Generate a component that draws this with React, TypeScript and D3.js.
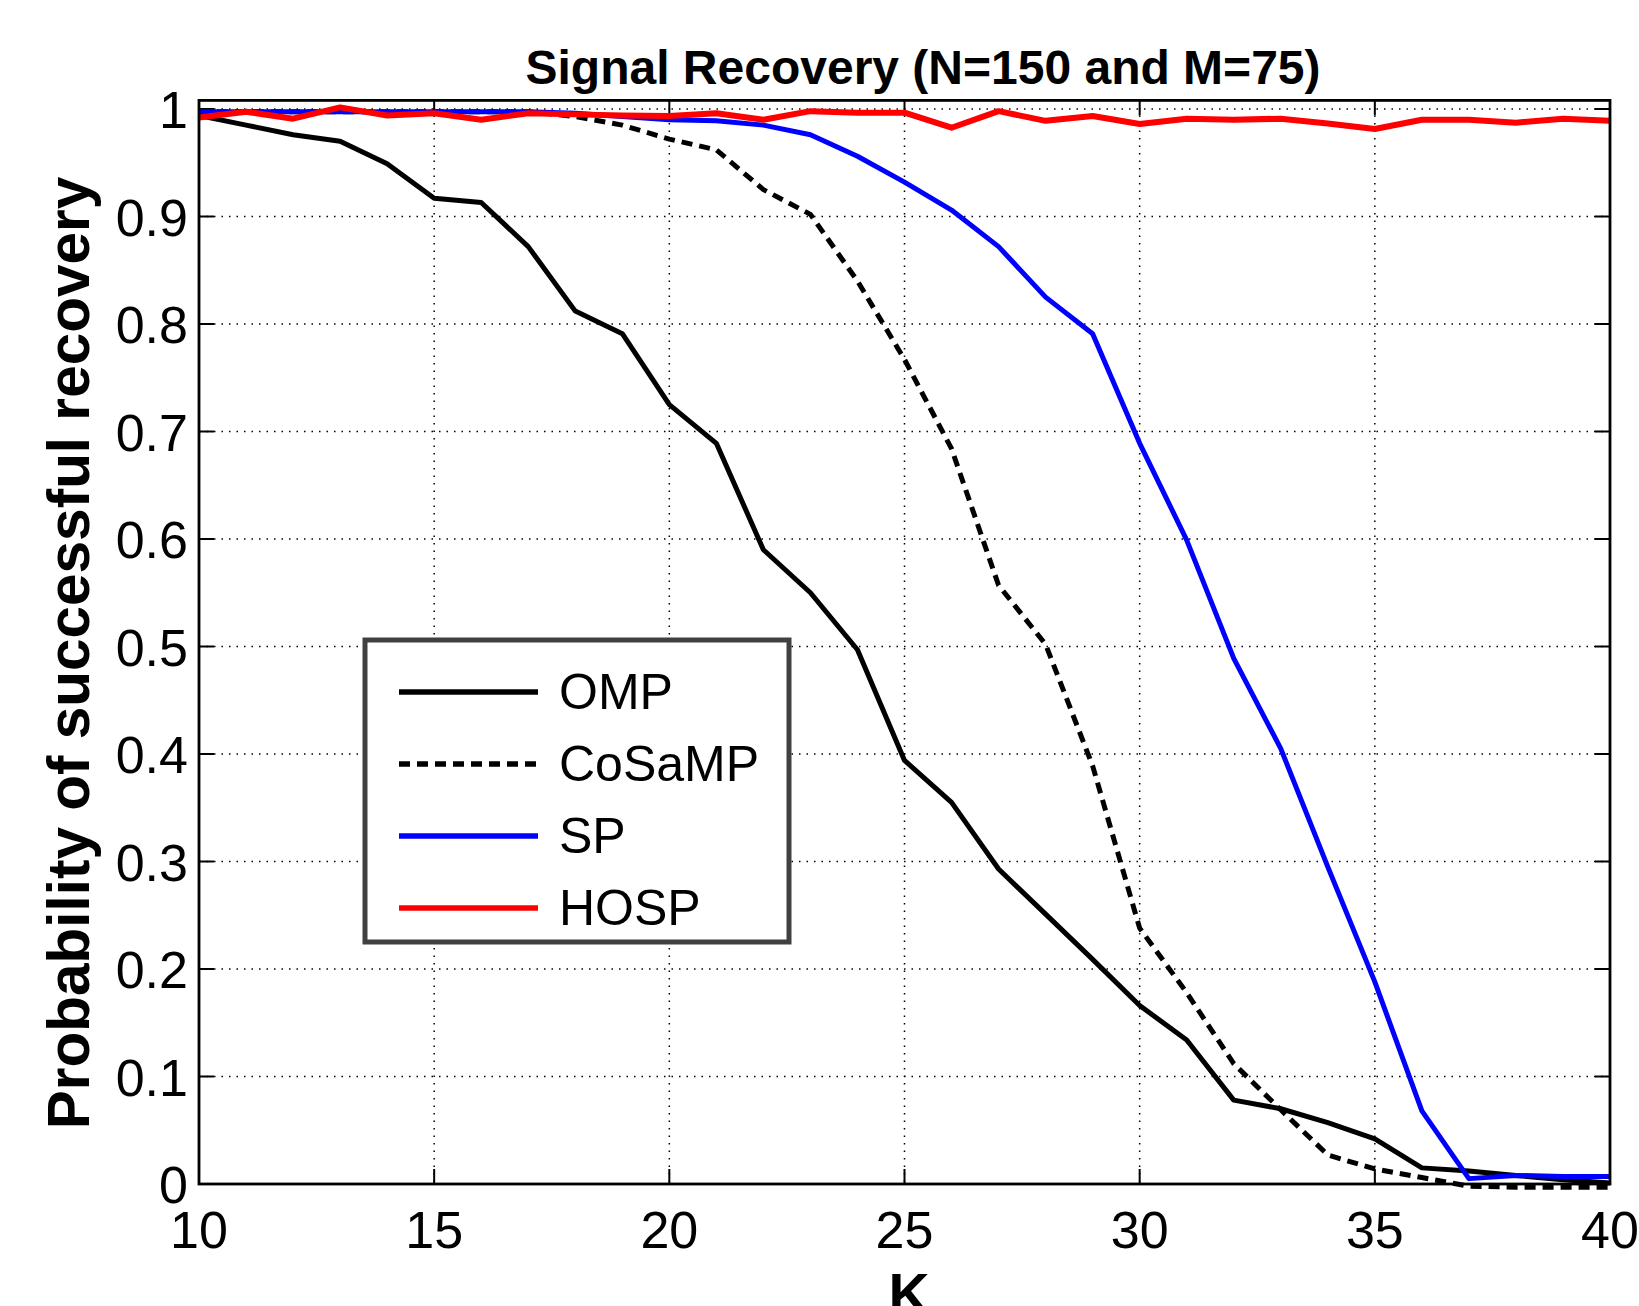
import React from "react";
import * as d3 from "d3";

const K = [10, 11, 12, 13, 14, 15, 16, 17, 18, 19, 20, 21, 22, 23, 24, 25, 26, 27, 28, 29, 30, 31, 32, 33, 34, 35, 36, 37, 38, 39, 40];

const OMP = [0.994, 0.985, 0.976, 0.970, 0.949, 0.917, 0.913, 0.872, 0.812, 0.791, 0.725, 0.689, 0.590, 0.550, 0.497, 0.394, 0.355, 0.293, 0.251, 0.209, 0.166, 0.134, 0.078, 0.070, 0.057, 0.042, 0.015, 0.012, 0.008, 0.004, 0.001];
const CoSaMP = [0.9975, 0.9975, 0.9975, 0.9975, 0.9975, 0.9975, 0.9975, 0.9975, 0.993, 0.985, 0.972, 0.962, 0.925, 0.902, 0.840, 0.767, 0.684, 0.557, 0.502, 0.389, 0.238, 0.178, 0.112, 0.069, 0.027, 0.014, 0.006, -0.002, -0.003, -0.003, -0.003];
const SP = [0.9975, 0.9975, 0.9975, 0.9975, 0.9975, 0.9975, 0.9975, 0.9975, 0.996, 0.993, 0.990, 0.989, 0.985, 0.976, 0.956, 0.932, 0.906, 0.872, 0.825, 0.791, 0.689, 0.599, 0.489, 0.405, 0.295, 0.188, 0.068, 0.005, 0.008, 0.007, 0.007];
const HOSP = [0.992, 0.9975, 0.991, 1.0015, 0.994, 0.996, 0.990, 0.996, 0.995, 0.994, 0.9935, 0.996, 0.990, 0.998, 0.9966, 0.9966, 0.9826, 0.998, 0.989, 0.9935, 0.986, 0.991, 0.990, 0.991, 0.9866, 0.9814, 0.990, 0.990, 0.9873, 0.991, 0.989];

const xTicks = [10, 15, 20, 25, 30, 35, 40];
const yTicks = [0, 0.1, 0.2, 0.3, 0.4, 0.5, 0.6, 0.7, 0.8, 0.9, 1];
const yTickLabels = ["0", "0.1", "0.2", "0.3", "0.4", "0.5", "0.6", "0.7", "0.8", "0.9", "1"];

const seriesNames = ["OMP", "CoSaMP", "SP", "HOSP"];
const seriesData = [OMP, CoSaMP, SP, HOSP];
const seriesColors = ["#000000", "#000000", "#0000ff", "#ff0000"];
const seriesDash = ["none", "11,7", "none", "none"];
const seriesWidth = [5, 5, 5, 6];

const FONT = "'Liberation Sans', Arial, Helvetica, sans-serif";

export default function App() {
  const W = 1639, H = 1306;
  const left = 199, right = 1610, top = 100.4, bottom = 1184;
  const x = d3.scaleLinear().domain([10, 40]).range([left, right]);
  const y = d3.scaleLinear().domain([0, 1.008]).range([bottom, top]);
  const line = d3.line<number>().x((_, i) => x(K[i])).y((d) => y(d));
  const tickLen = 15;

  const legX = 365, legY = 640, legW = 424, legH = 302;
  const legRow0 = 692, legStep = 72;

  return (
    <svg width={W} height={H} style={{ position: "absolute", left: 0, top: 0, background: "#fff" }} fontFamily={FONT}>
      <rect x={0} y={0} width={W} height={H} fill="#fff" />
      {/* grid */}
      {xTicks.map((t) => (
        <line key={"gx" + t} x1={x(t)} x2={x(t)} y1={top} y2={bottom} stroke="#000" strokeWidth={1.5} strokeDasharray="1.5,6" />
      ))}
      {yTicks.map((t) => (
        <line key={"gy" + t} x1={left} x2={right} y1={y(t)} y2={y(t)} stroke="#000" strokeWidth={1.5} strokeDasharray="1.5,6" />
      ))}
      {/* ticks */}
      {xTicks.map((t) => (
        <g key={"tx" + t}>
          <line x1={x(t)} x2={x(t)} y1={bottom} y2={bottom - tickLen} stroke="#000" strokeWidth={2} />
          <line x1={x(t)} x2={x(t)} y1={top} y2={top + tickLen} stroke="#000" strokeWidth={2} />
          <text x={x(t)} y={1248} fontSize={52} textAnchor="middle" fill="#000">{t}</text>
        </g>
      ))}
      {yTicks.map((t, i) => (
        <g key={"ty" + t}>
          <line x1={left} x2={left + tickLen} y1={y(t)} y2={y(t)} stroke="#000" strokeWidth={2} />
          <line x1={right} x2={right - tickLen} y1={y(t)} y2={y(t)} stroke="#000" strokeWidth={2} />
          <text x={188} y={y(t) + 19} fontSize={52} textAnchor="end" fill="#000">{yTickLabels[i]}</text>
        </g>
      ))}
      {/* data */}
      {seriesData.map((s, i) => (
        <path key={seriesNames[i]} d={line(s) || ""} fill="none" stroke={seriesColors[i]} strokeWidth={seriesWidth[i]} strokeDasharray={seriesDash[i]} strokeLinejoin="round" />
      ))}
      {/* axes box */}
      <rect x={left} y={top} width={right - left} height={bottom - top} fill="none" stroke="#000" strokeWidth={2.8} />
      {/* legend */}
      <rect x={legX} y={legY} width={legW} height={legH} fill="#fff" stroke="#404040" strokeWidth={5} />
      {seriesNames.map((n, i) => {
        const ly = legRow0 + i * legStep;
        return (
          <g key={"leg" + n}>
            <line x1={399} x2={538} y1={ly} y2={ly} stroke={seriesColors[i]} strokeWidth={5.5} strokeDasharray={seriesDash[i]} />
            <text x={559} y={ly + 17} fontSize={50} fill="#000">{n}</text>
          </g>
        );
      })}
      {/* title and labels */}
      <text x={923} y={84} fontSize={48} fontWeight="bold" textAnchor="middle" fill="#000">Signal Recovery (N=150 and M=75)</text>
      <text transform="translate(89,653) rotate(-90)" fontSize={58.5} fontWeight="bold" textAnchor="middle" fill="#000">Probability of successful recovery</text>
      <text x={909} y={1314} fontSize={57} fontWeight="bold" textAnchor="middle" fill="#000">K</text>
    </svg>
  );
}
